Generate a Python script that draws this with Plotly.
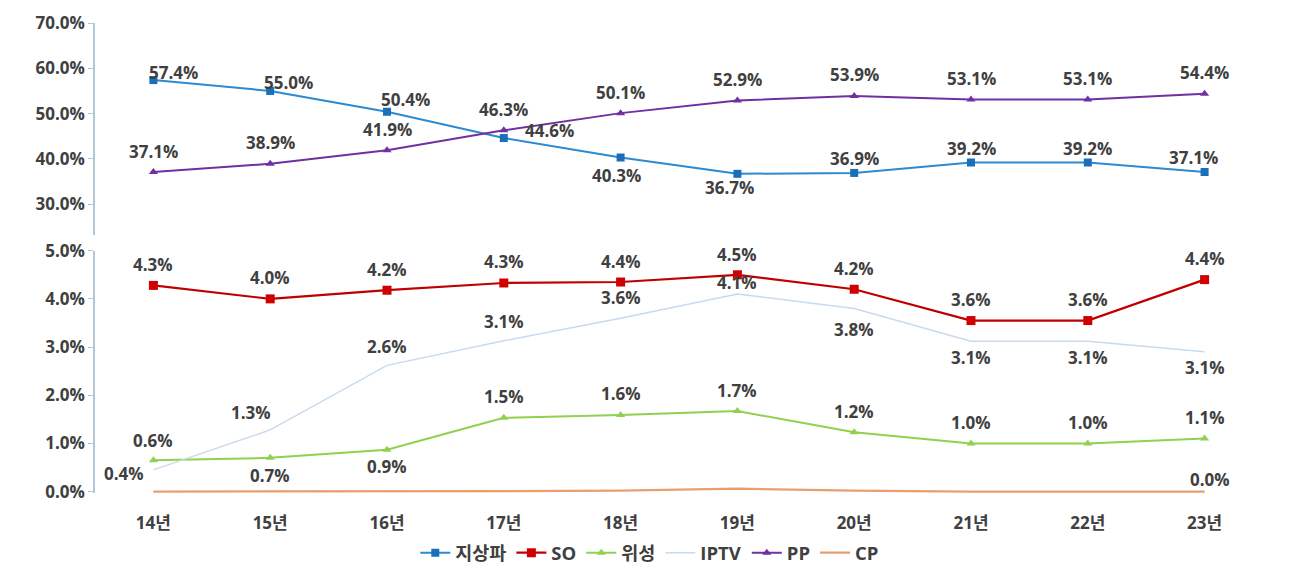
import plotly.graph_objects as go

years = ["14년", "15년", "16년", "17년", "18년", "19년", "20년", "21년", "22년", "23년"]

# top panel (%)
terrestrial = [57.4, 55.0, 50.4, 44.6, 40.3, 36.7, 36.9, 39.2, 39.2, 37.1]
pp = [37.1, 38.9, 41.9, 46.3, 50.1, 52.9, 53.9, 53.1, 53.1, 54.4]
# bottom panel (%)
so = [4.28, 4.0, 4.18, 4.33, 4.35, 4.5, 4.2, 3.55, 3.55, 4.4]
so_labels = ["4.3%", "4.0%", "4.2%", "4.3%", "4.4%", "4.5%", "4.2%", "3.6%", "3.6%", "4.4%"]
satellite = [0.65, 0.7, 0.87, 1.53, 1.59, 1.67, 1.23, 1.0, 1.0, 1.1]
sat_labels = ["0.6%", "0.7%", "0.9%", "1.5%", "1.6%", "1.7%", "1.2%", "1.0%", "1.0%", "1.1%"]
iptv = [0.45, 1.28, 2.62, 3.13, 3.6, 4.1, 3.8, 3.12, 3.12, 2.9]
iptv_labels = ["0.4%", "1.3%", "2.6%", "3.1%", "3.6%", "4.1%", "3.8%", "3.1%", "3.1%", "3.1%"]
cp = [0.0, 0.0, 0.0, 0.01, 0.02, 0.06, 0.02, 0.0, 0.0, 0.0]
cp_labels = ["", "", "", "", "", "", "", "", "", "0.0%"]

top_ticks = [30, 40, 50, 60, 70]
bottom_ticks = [0, 1, 2, 3, 4, 5]

FONT = "Open Sans, Noto Sans CJK KR, sans-serif"
TXT = "#404040"
AXC = "#B4C7D5"

fig = go.Figure()

def add(name, y, yaxis, color, width, symbol=None, msize=8, mcolor=None):
    mode = "lines+markers" if symbol else "lines"
    fig.add_trace(go.Scatter(
        x=years, y=y, name=name, mode=mode, yaxis=yaxis, xaxis="x",
        line=dict(color=color, width=width),
        marker=dict(symbol=symbol or "circle", size=msize, color=mcolor or color),
        hoverinfo="skip"))

add("지상파", terrestrial, "y", "#2B8AD0", 2, "square", 8, "#1B6FB8")
add("SO", so, "y2", "#C00000", 2.2, "square", 9, "#D00000")
add("위성", satellite, "y2", "#92D050", 2, "triangle-up", 8, "#92D050")
add("IPTV", iptv, "y2", "#C9DAEE", 1.5)
add("PP", pp, "y", "#7030A0", 2, "triangle-up", 8, "#7030A0")
add("CP", cp, "y2", "#E5A06E", 2.2)

ann = []
def labels(y, texts, yref, offsets):
    for i, (v, t) in enumerate(zip(y, texts)):
        if not t:
            continue
        dx, dy = offsets[i]
        ann.append(dict(x=years[i], y=v, xref="x", yref=yref, text=t, showarrow=False,
                        xshift=dx, yshift=dy,
                        font=dict(family=FONT, size=17, color=TXT, weight="bold")))

labels(terrestrial, [f"{v:.1f}%" for v in terrestrial], "y",
       [(20, 8), (18, 8), (18, 12), (46, 8), (-4, -18), (-8, -14), (0, 14), (0, 14), (0, 14), (-11, 15)])
labels(pp, [f"{v:.1f}%" for v in pp], "y", [(0, 21)] * 10)
labels(so, so_labels, "y2", [(0, 21)] * 5 + [(0, 20)] + [(0, 21)] * 4)
labels(iptv, iptv_labels, "y2",
       [(-29, -4), (-19, 17), (0, 19), (0, 19), (0, 21), (0, 12), (0, -21), (0, -16), (0, -16), (0, -16)])
labels(satellite, sat_labels, "y2",
       [(0, 20), (0, -18), (0, -17)] + [(0, 21)] * 7)
labels(cp, cp_labels, "y2", [(0, 0)] * 9 + [(5, 12)])

fig.update_layout(
    width=1275, height=557,
    margin=dict(l=87, r=20, t=15, b=72, autoexpand=False),
    paper_bgcolor="white", plot_bgcolor="white",
    font=dict(family=FONT, size=17, color=TXT),
    showlegend=True,
    legend=dict(orientation="h", x=0.475, xanchor="center", y=-0.128, yanchor="middle",
                font=dict(family=FONT, size=18.5, color=TXT, weight="bold"),
                itemwidth=30, bgcolor="rgba(0,0,0,0)"),
    xaxis=dict(type="category", categoryorder="array", categoryarray=years,
               range=[-0.5, 9.5], anchor="y2", showline=False, showgrid=False,
               zeroline=False, ticks="", ticklabelstandoff=18, automargin=False,
               tickfont=dict(family=FONT, size=17, color=TXT, weight="bold")),
    yaxis=dict(domain=[0.549, 1], range=[23.2, 70], anchor="x", automargin=False,
               tickvals=top_ticks, ticktext=[f"{v:.1f}%" for v in top_ticks],
               showline=True, linecolor=AXC, linewidth=1.5, ticks="outside",
               ticklen=5, tickcolor=AXC, showgrid=False, zeroline=False,
               tickfont=dict(family=FONT, size=17, color=TXT, weight="bold")),
    yaxis2=dict(domain=[0, 0.5155], range=[-0.03, 5], anchor="x", automargin=False,
                tickvals=bottom_ticks, ticktext=[f"{v:.1f}%" for v in bottom_ticks],
                showline=True, linecolor=AXC, linewidth=1.5, ticks="outside",
                ticklen=5, tickcolor=AXC, showgrid=False, zeroline=False,
                tickfont=dict(family=FONT, size=17, color=TXT, weight="bold")),
    annotations=ann,
    shapes=[dict(type="line", xref="paper", yref="paper",
                 x0=-0.077, x1=-0.077, y0=-0.04, y1=0.272,
                 line=dict(color="#BFBFBF", width=1.5))],
)

fig.write_html("out.html")
